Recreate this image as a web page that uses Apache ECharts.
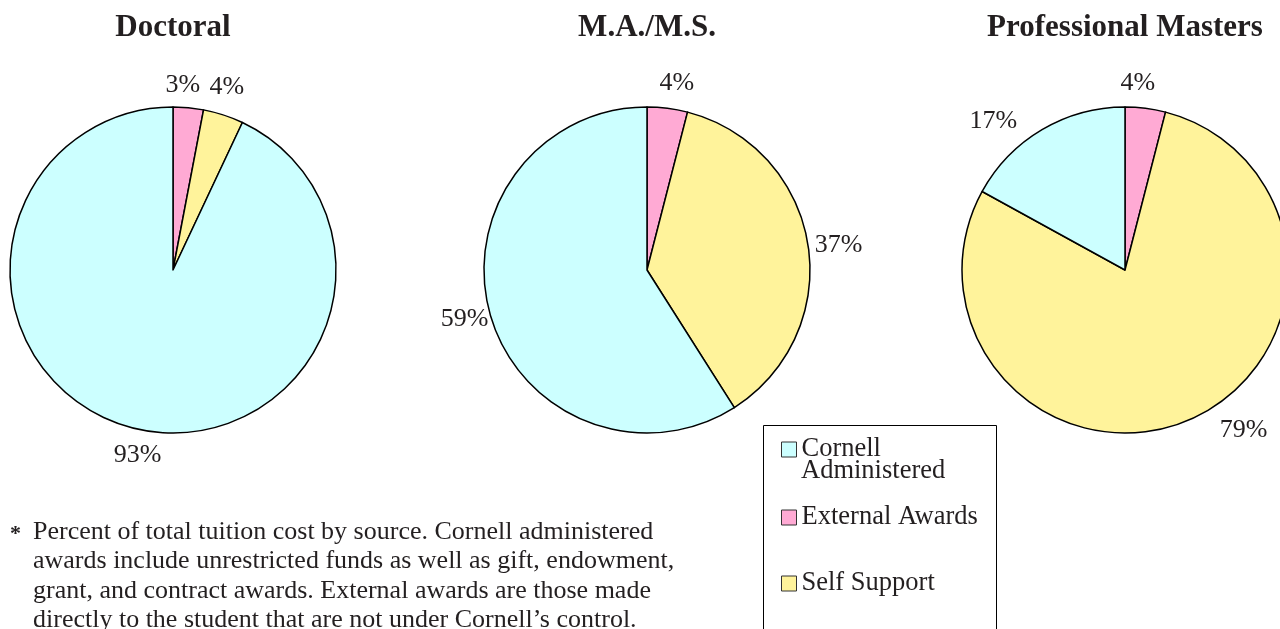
<!DOCTYPE html>
<html>
<head>
<meta charset="utf-8">
<title>Tuition sources</title>
<script src="https://cdn.jsdelivr.net/npm/echarts@6/dist/echarts.min.js"></script>
<style>
  html, body { margin: 0; padding: 0; background: #fff; }
  #chart { width: 1280px; height: 629px; }
</style>
</head>
<body>
<div id="chart"></div>
<script>
// data (percent of tuition by source)
const groups = ['Doctoral', 'M.A./M.S.', 'Professional Masters']
const sources = ['External Awards', 'Self Support', 'Cornell Administered'] // clockwise from 12 o'clock
const external = [3, 4, 4]
const selfSupport = [4, 37, 79]
const cornell = [93, 59, 17]

const colors = {
  'Cornell Administered': '#CCFFFF',
  'External Awards': '#FFAAD4',
  'Self Support': '#FFF39B'
}
const serif = '"Liberation Serif", "Times New Roman", serif'
const centersX = [173, 647, 1125]
const R = 163
// hand nudges for a few labels (the original was placed by hand)
const labelNudge = {
  '0-0': [-8, 4], '0-1': [-5, -2], '0-2': [6, 0],
  '1-0': [6, 2], '1-1': [4, 5], '1-2': [0, -4],
  '2-0': [-11, 2], '2-1': [43, -14], '2-2': [-35, 15]
}

let chartInstance = echarts.init(document.getElementById('chart'))

let series = groups.map((g, i) => {
  const vals = [external[i], selfSupport[i], cornell[i]]
  return {
    name: g,
    type: 'pie',
    center: [centersX[i], 270],
    radius: R,
    startAngle: 90,
    clockwise: true,
    avoidLabelOverlap: false,
    animation: false,
    data: sources.map((s, k) => ({
      name: s,
      value: vals[k],
      itemStyle: { color: colors[s] }
    })),
    itemStyle: { borderColor: '#000', borderWidth: 1.5 },
    label: {
      show: true,
      position: 'outside',
      formatter: '{c}%',
      fontFamily: serif,
      fontSize: 26,
      color: '#231f20',
      distanceToLabelLine: 0
    },
    labelLine: { show: false, length: 27, length2: 0 },
    labelLayout: (params) => {
      const d = labelNudge[i + '-' + params.dataIndex] || [0, 0]
      return { align: 'center', verticalAlign: 'middle', dx: d[0], dy: d[1], hideOverlap: false }
    },
    emphasis: { disabled: true }
  }
})

// legend: one block per entry so the vertical spacing matches
const legendTops = [436, 504, 570]
const legendNames = ['Cornell Administered', 'External Awards', 'Self Support']
let legends = legendNames.map((n, i) => ({
  data: [n],
  left: 781,
  top: legendTops[i],
  padding: 0,
  orient: 'vertical',
  icon: 'rect',
  itemWidth: 15,
  itemHeight: 15,
  selectedMode: false,
  itemStyle: { borderColor: '#333', borderWidth: 1 },
  formatter: name => name === 'Cornell Administered' ? 'Cornell' : name,
  textStyle: { fontFamily: serif, fontSize: 26.5, color: '#231f20' }
}))

const note = [
  'Percent of total tuition cost by source. Cornell administered',
  'awards include unrestricted funds as well as gift, endowment,',
  'grant, and contract awards. External awards are those made',
  'directly to the student that are not under Cornell\u2019s control.'
]

const option = {
  backgroundColor: '#fff',
  animation: false,
  title: groups.map((g, i) => ({
    text: g,
    left: centersX[i] - 5,
    top: 7,
    textAlign: 'center',
    textStyle: { fontFamily: serif, fontWeight: 'bold', fontSize: 31, color: '#231f20' }
  })),
  legend: legends,
  series: series,
  graphic: [
    {
      type: 'rect',
      shape: { x: 763.5, y: 425.5, width: 233, height: 230 },
      style: { fill: 'none', stroke: '#000', lineWidth: 1 },
      z: 0
    },
    {
      type: 'text',
      left: 801,
      top: 458,
      style: { text: 'Administered', font: '26.5px ' + serif, fill: '#231f20' }
    },
    {
      type: 'text',
      left: 10,
      top: 523,
      style: { text: '*', font: 'bold 22px ' + serif, fill: '#231f20' }
    },
    {
      type: 'text',
      left: 33,
      top: 517.5,
      style: { text: note.join('\n'), font: '26px ' + serif, lineHeight: 29.4, fill: '#231f20' }
    }
  ]
}

chartInstance.setOption(option)
</script>
</body>
</html>
